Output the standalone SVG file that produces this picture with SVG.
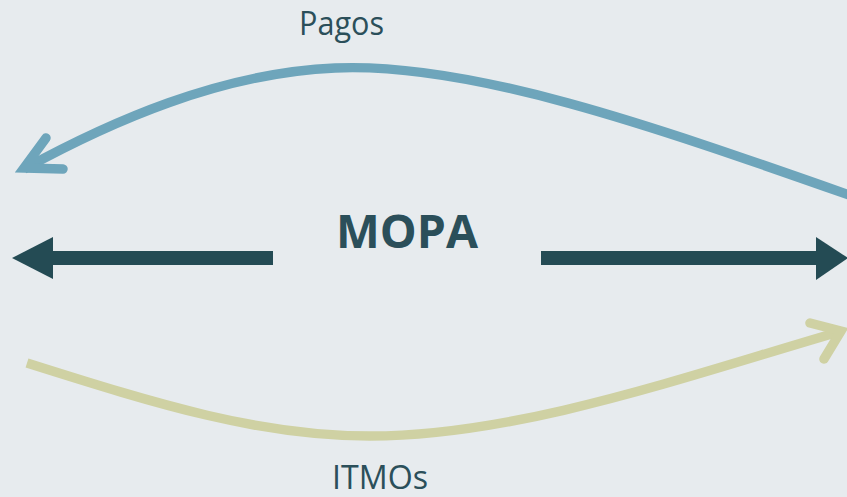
<svg xmlns="http://www.w3.org/2000/svg" width="847" height="497" viewBox="0 0 847 497">
<style>
.lbl{font-family:"Open Sans","Noto Sans","Liberation Sans",sans-serif;fill:#2B4F5A;font-size:32px}
.title{font-family:"Open Sans","Noto Sans","Liberation Sans",sans-serif;fill:#2B4F5A;font-size:46px;font-weight:bold}
.curve{fill:none;stroke-width:9.5}
.head{fill:none;stroke-width:9.5;stroke-linecap:round;stroke-linejoin:miter;stroke-miterlimit:10}
</style>
<rect width="847" height="497" fill="#E7EBEE"/>
<g id="connectors">
  <path class="curve" stroke="#6EA5BB" d="M852,196 C650,125 470,62 335,68 C220,73 110,122 24,169"/>
  <polyline class="head" stroke="#6EA5BB" points="46,138 24,168 63,169"/>
  <path class="curve" stroke="#CFD1A3" d="M27,363 C160,405 260,436 370,436 C520,436 690,375 842,331"/>
  <polyline class="head" stroke="#CFD1A3" points="810,323 841,331 824,359"/>
  <g fill="#244B54">
    <rect x="50" y="251" width="223" height="14"/>
    <polygon points="12,258 53,237 53,279"/>
    <rect x="541" y="251" width="277" height="14"/>
    <polygon points="848,258 816,237 816,280"/>
  </g>
</g>
<g id="mopa"><text class="title" x="336" y="248" textLength="142" lengthAdjust="spacingAndGlyphs">MOPA</text></g>
<g id="pagos"><text class="lbl" x="299" y="35" textLength="85" lengthAdjust="spacingAndGlyphs">Pagos</text></g>
<g id="itmos"><text class="lbl" x="332" y="489" textLength="96" lengthAdjust="spacingAndGlyphs">ITMOs</text></g>
</svg>
